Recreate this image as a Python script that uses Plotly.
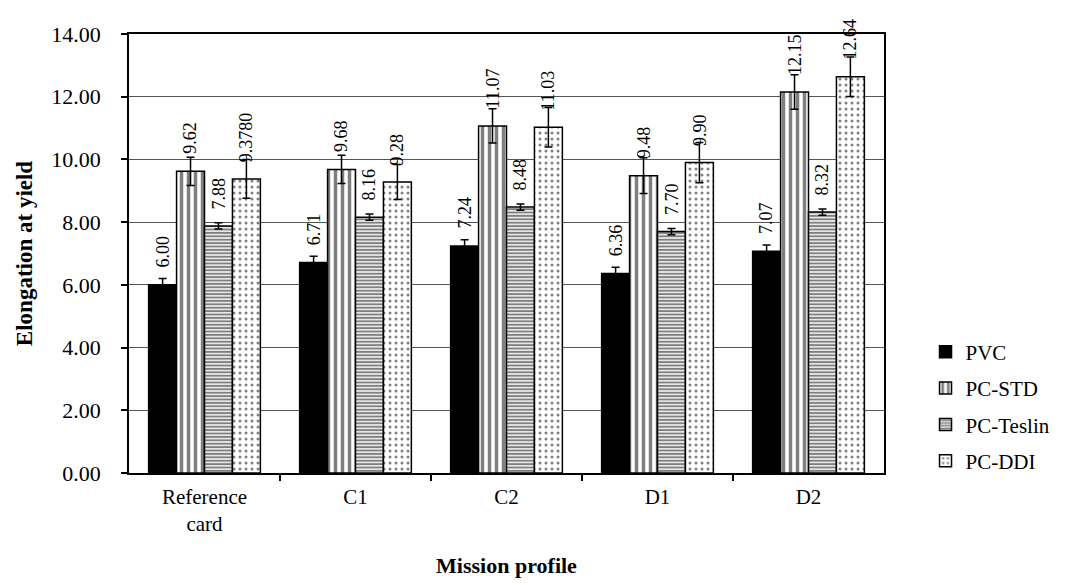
import plotly.graph_objects as go

# Mission profiles on the x axis
categories = ["Reference<br>card", "C1", "C2", "D1", "D2"]

# Elongation at yield per material (labels as printed; bar heights come from them)
pvc_labels = ["6.00", "6.71", "7.24", "6.36", "7.07"]
pcstd_labels = ["9.62", "9.68", "11.07", "9.48", "12.15"]
teslin_labels = ["7.88", "8.16", "8.48", "7.70", "8.32"]
ddi_labels = ["9.3780", "9.28", "11.03", "9.90", "12.64"]

# Standard deviations (error bars)
pvc_err = [0.20, 0.20, 0.20, 0.20, 0.20]
pcstd_err = [0.45, 0.45, 0.55, 0.57, 0.55]
teslin_err = [0.10, 0.10, 0.10, 0.10, 0.10]
ddi_err = [0.62, 0.56, 0.63, 0.64, 0.63]

y_ticks = [0, 2, 4, 6, 8, 10, 12, 14]

FONT = "Liberation Serif, Times New Roman, serif"
BAR_W = 0.185

series = [
    ("PVC", pvc_labels, pvc_err, dict(fgcolor="black", bgcolor="black", shape="", solidity=1)),
    ("PC-STD", pcstd_labels, pcstd_err, dict(shape="|", fgcolor="black", bgcolor="white", size=7, solidity=0.5)),
    ("PC-Teslin", teslin_labels, teslin_err, dict(shape="-", fgcolor="black", bgcolor="white", size=3.4, solidity=0.6)),
    ("PC-DDI", ddi_labels, ddi_err, dict(shape=".", fgcolor="black", bgcolor="white", size=6, solidity=0.2)),
]

fig = go.Figure()
annotations = []
n = len(series)
for i, (name, labels, err, pattern) in enumerate(series):
    values = [float(s) for s in labels]
    offset = (i - (n - 1) / 2) * BAR_W
    xs = [k + offset for k in range(len(categories))]
    fill = "black" if name == "PVC" else "white"
    fig.add_trace(go.Bar(
        x=xs, y=values, width=BAR_W, name=name, legendgroup=name,
        marker=dict(color=fill, line=dict(color="black", width=1.5), pattern=pattern),
        error_y=dict(type="data", array=err, color="black", thickness=1.5, width=4),
    ))
    for x, v, t in zip(xs, values, labels):
        annotations.append(dict(
            x=x, y=v, xref="x", yref="y", text=t, showarrow=False,
            textangle=-90, xanchor="center", yanchor="bottom", yshift=15,
            font=dict(family=FONT, size=18, color="black"),
        ))

fig.update_layout(
    width=1067, height=585,
    margin=dict(l=129, r=178, t=34, b=112),
    paper_bgcolor="white", plot_bgcolor="white",
    barmode="overlay",
    font=dict(family=FONT, size=21, color="black"),
    annotations=annotations,
    showlegend=True,
    legend=dict(
        x=1.055, y=0.322, xanchor="left", yanchor="top",
        traceorder="grouped", tracegroupgap=6,
        font=dict(family=FONT, size=21, color="black"),
        bgcolor="rgba(0,0,0,0)",
    ),
)

fig.update_xaxes(
    range=[-0.5, 4.5], automargin=False,
    tickmode="array", tickvals=list(range(len(categories))), ticktext=categories,
    ticks="", showline=True, linecolor="black", linewidth=1.5, mirror=True,
    showgrid=False, zeroline=False, ticklabelstandoff=4,
    tickfont=dict(family=FONT, size=21, color="black"),
    minor=dict(tickvals=[0.5, 1.5, 2.5, 3.5], ticks="outside", ticklen=6,
               tickcolor="black", tickwidth=1.5, showgrid=False),
    title=dict(text="<b>Mission profile</b>", font=dict(family=FONT, size=22), standoff=22),
)

fig.update_yaxes(
    range=[0, 14], automargin=False, tickmode="array", tickvals=y_ticks,
    tickformat=".2f", ticks="outside", ticklen=6, tickcolor="black", tickwidth=1.5,
    showline=True, linecolor="black", linewidth=1.5, mirror=True,
    showgrid=True, gridcolor="#555555", gridwidth=1, zeroline=False,
    ticklabelstandoff=16,
    tickfont=dict(family=FONT, size=22, color="black"),
    title=dict(text="<b>Elongation at yield</b>", font=dict(family=FONT, size=23), standoff=12),
)

fig.write_html("out.html")
